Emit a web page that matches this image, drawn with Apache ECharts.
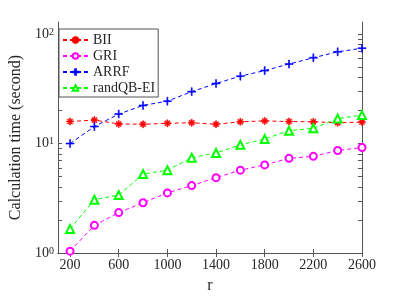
<!DOCTYPE html>
<html>
<head>
<meta charset="utf-8">
<script src="https://cdn.jsdelivr.net/npm/echarts@6/dist/echarts.min.js"></script>
<style>html,body{margin:0;padding:0;background:#fff}#c{width:399px;height:299px}</style>
</head>
<body>
<div id="c"></div>
<script>
const rValues = [200, 400, 600, 800, 1000, 1200, 1400, 1600, 1800, 2000, 2200, 2400, 2600];
const BII = [15.9, 16.4, 15.1, 15.0, 15.3, 15.5, 15.0, 15.8, 16.1, 15.9, 15.8, 15.5, 15.7];
const GRI = [1.04, 1.79, 2.34, 2.88, 3.54, 4.13, 4.88, 5.71, 6.38, 7.33, 7.64, 8.65, 9.2];
const ARRF = [10.0, 14.3, 18.6, 22.3, 24.4, 29.8, 35.4, 41.3, 46.4, 53.3, 60.8, 68.9, 74.3];
const randQBEI = [1.66, 3.07, 3.38, 5.26, 5.71, 7.43, 8.2, 9.73, 11.0, 13.1, 13.8, 16.9, 18.2];
const xTickValues = [200, 600, 1000, 1400, 1800, 2200, 2600];
const yDecades = [0, 1, 2];           // exponents of labelled ticks 10^0, 10^1, 10^2
const yMinorMultipliers = [1, 2, 3, 4, 5, 6, 7, 8, 9];
const xMin = 100, xMax = 2600, yMin = 1, yMax = 129;

const logMax = Math.log10(yMax);
const yTickLogs = [];
yDecades.forEach(d => yMinorMultipliers.forEach(m => {
  const v = Math.log10(m * Math.pow(10, d));
  if (v <= logMax + 1e-9) yTickLogs.push(v);
}));

const axisColor = '#555';
const textColor = '#262626';
const font = 'Liberation Serif';

const asteriskPath = 'path://M-5,-0.7H5V0.7H-5Z M-0.7,-5H0.7V5H-0.7Z M-3.92,-2.92L-2.92,-3.92L3.92,2.92L2.92,3.92Z M2.92,-3.92L3.92,-2.92L-2.92,3.92L-3.92,2.92Z';
const plusPath = 'path://M-5,-0.6H5V0.6H-5Z M-0.6,-5H0.6V5H-0.6Z';

function mk(name, arr, color, symbol, size, filled) {
  return {
    name, type: 'line', xAxisIndex: 0, yAxisIndex: 0,
    data: rValues.map((x, i) => [x, arr[i]]),
    symbol, symbolSize: size,
    lineStyle: { color, width: 1, type: [4, 3] },
    itemStyle: filled ? { color, borderColor: color, borderWidth: 0.6 } : { color, borderColor: color, borderWidth: 1 },
    emphasis: { disabled: true },
    animation: false, z: 3
  };
}

const chart = echarts.init(document.getElementById('c'), null, { renderer: 'canvas' });
chart.setOption({
  animation: false,
  backgroundColor: '#fff',
  textStyle: { fontFamily: font, color: textColor },
  grid: { left: 52, right: 37, top: 22, bottom: 42, containLabel: false },
  legend: {
    orient: 'vertical', left: 59, top: 29,
    padding: [4, 3, 2, 3], itemGap: 2, itemWidth: 25, itemHeight: 7,
    backgroundColor: '#fff', borderColor: axisColor, borderWidth: 1,
    textStyle: { fontFamily: font, fontSize: 14, color: textColor },
    data: ['BII', 'GRI', 'ARRF', 'randQB-EI']
  },
  xAxis: [
    {
      type: 'value', position: 'bottom', min: xMin, max: xMax,
      name: 'r', nameLocation: 'middle', nameGap: 25,
      nameTextStyle: { fontFamily: font, fontSize: 16, color: textColor },
      axisLine: { show: true, lineStyle: { color: axisColor, width: 1 } },
      axisTick: { show: true, inside: true, length: 4, customValues: xTickValues, lineStyle: { color: axisColor } },
      axisLabel: { customValues: xTickValues, formatter: v => String(v), fontFamily: font, fontSize: 14, color: textColor, margin: 5 },
      splitLine: { show: false }
    },
    {
      type: 'value', position: 'top', min: xMin, max: xMax,
      axisLine: { show: true, lineStyle: { color: axisColor, width: 1 } },
      axisTick: { show: true, inside: true, length: 4, customValues: xTickValues, lineStyle: { color: axisColor } },
      axisLabel: { show: false },
      splitLine: { show: false }
    }
  ],
  yAxis: [
    {
      type: 'log', logBase: 10, min: yMin, max: yMax, position: 'left',
      axisLine: { show: false }, axisTick: { show: false }, axisLabel: { show: false },
      splitLine: { show: false }
    },
    {
      type: 'value', position: 'left', min: 0, max: logMax,
      name: 'Calculation time (second)', nameLocation: 'middle', nameGap: 31,
      nameTextStyle: { fontFamily: font, fontSize: 16, color: textColor },
      axisLine: { show: true, lineStyle: { color: axisColor, width: 1 } },
      axisTick: { show: true, inside: true, length: 4, customValues: yTickLogs, lineStyle: { color: axisColor } },
      axisLabel: {
        customValues: yDecades, margin: 4,
        formatter: v => '{b|10}{s|' + Math.round(v) + '}',
        rich: {
          b: { fontFamily: font, fontSize: 14, color: textColor, verticalAlign: 'bottom', lineHeight: 14 },
          s: { fontFamily: font, fontSize: 10, color: textColor, verticalAlign: 'top', lineHeight: 10, padding: [0, 0, 8, 0] }
        }
      },
      splitLine: { show: false }
    },
    {
      type: 'value', position: 'right', min: 0, max: logMax,
      axisLine: { show: true, lineStyle: { color: axisColor, width: 1 } },
      axisTick: { show: true, inside: true, length: 4, customValues: yTickLogs, lineStyle: { color: axisColor } },
      axisLabel: { show: false },
      splitLine: { show: false }
    }
  ],
  series: [
    mk('BII', BII, '#ff0000', asteriskPath, 7, true),
    mk('GRI', GRI, '#ff00ff', 'emptyCircle', 7, false),
    mk('ARRF', ARRF, '#0000ff', plusPath, 8, true),
    mk('randQB-EI', randQBEI, '#00ff00', 'emptyTriangle', 8, false)
  ]
});
</script>
</body>
</html>
